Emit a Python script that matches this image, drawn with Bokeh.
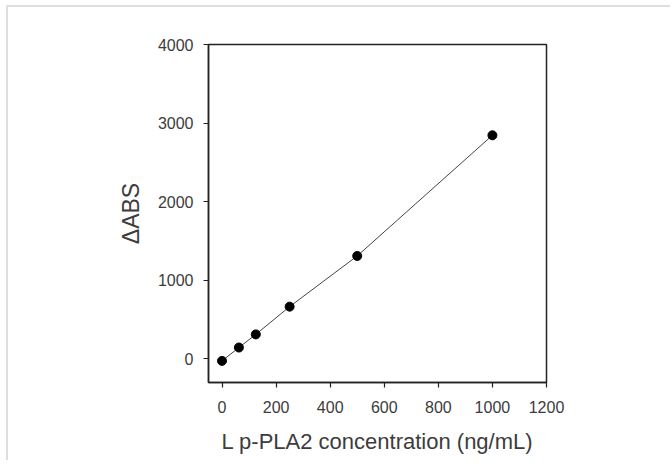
from bokeh.plotting import figure
from bokeh.models import Range1d, FixedTicker
from bokeh.embed import file_html
from bokeh.resources import INLINE

conc = [0, 62.5, 125, 250, 500, 1000]
dabs = [-25, 145, 312, 665, 1310, 2845]
x_ticks = [0, 200, 400, 600, 800, 1000, 1200]
y_ticks = [0, 1000, 2000, 3000, 4000]

p = figure(width=664, height=455, output_backend="svg", toolbar_location=None,
           x_range=Range1d(-50, 1200), y_range=Range1d(-300, 4000),
           min_border_left=200, min_border_right=126, min_border_top=37, min_border_bottom=80)
p.styles = {"border-top": "2px solid #dedede", "border-left": "2px solid #dedede",
            "margin-top": "5px", "margin-left": "6px"}

p.line(conc, dabs, line_color="#444444", line_width=1)
p.scatter(conc, dabs, size=9, fill_color="black", line_color="black")

p.xgrid.visible = False
p.ygrid.visible = False
p.outline_line_color = "#222222"
p.outline_line_width = 1.5
p.outline_line_alpha = 1

text_color = "#3c3c3c"
for ax in (p.xaxis[0], p.yaxis[0]):
    ax.axis_line_color = "#222222"
    ax.axis_line_width = 1.5
    ax.major_tick_line_color = "#222222"
    ax.major_tick_line_width = 1.2
    ax.major_tick_out = 5
    ax.major_tick_in = 0
    ax.minor_tick_line_color = None
    ax.major_label_text_font = "Liberation Sans"
    ax.major_label_text_font_size = "16px"
    ax.major_label_text_color = text_color
    ax.axis_label_text_color = text_color
    ax.axis_label_text_font_style = "normal"

p.xaxis[0].ticker = FixedTicker(ticks=x_ticks)
p.yaxis[0].ticker = FixedTicker(ticks=y_ticks)
p.xaxis[0].major_label_standoff = 13
p.yaxis[0].major_label_standoff = 10

p.xaxis[0].axis_label = "L p-PLA2 concentration (ng/mL)"
p.xaxis[0].axis_label_text_font = "Liberation Sans"
p.xaxis[0].axis_label_text_font_size = "22px"
p.xaxis[0].axis_label_standoff = 13

p.yaxis[0].axis_label = "ΔABS"
p.yaxis[0].axis_label_text_font = "Liberation Sans"
p.yaxis[0].axis_label_text_font_size = "23px"
p.yaxis[0].axis_label_standoff = 11

open("out.html", "w").write(file_html(p, INLINE))
